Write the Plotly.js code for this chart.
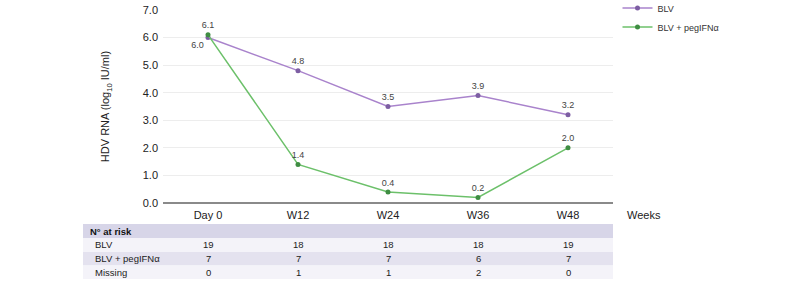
<!DOCTYPE html>
<html><head><meta charset="utf-8">
<script src="https://cdn.plot.ly/plotly-3.0.1.min.js"></script>
<style>html,body{margin:0;padding:0;background:#fff}#chart{width:787px;height:285px}</style>
</head><body><div id="chart"></div>
<script>
const timepoints = ["Day 0", "W12", "W24", "W36", "W48"];
const blvValues = [6.0, 4.8, 3.5, 3.9, 3.2];
const pegValues = [6.1, 1.4, 0.4, 0.2, 2.0];
const seriesNames = ["BLV", "BLV + pegIFNα"];
const riskRowLabels = ["BLV", "BLV + pegIFNα", "Missing"];
const riskBLV = [19, 18, 18, 18, 19];
const riskPeg = [7, 7, 7, 6, 7];
const riskMissing = [0, 1, 1, 2, 0];
const yTicks = [0, 1, 2, 3, 4, 5, 6, 7];

const FONT = "Liberation Sans, Arial, Helvetica, sans-serif";
const W = 787, H = 285, L = 163, R = 174, T = 10, B = 82;
const pw = W - L - R, ph = H - T - B;
const px2x = p => (p - L) / pw;
const py2y = p => (H - B - p) / ph;

const blvPos = blvValues.map((v, i) => i === 0 ? "bottom left" : "top center");
const pegPos = pegValues.map(() => "top center");

const traces = [
  {
    x: timepoints, y: blvValues, name: seriesNames[0], type: "scatter", mode: "lines+markers+text",
    line: {color: "#a983cc", width: 1.5}, marker: {color: "#7d5ea3", size: 5},
    text: blvValues.map(v => v.toFixed(1)), textposition: blvPos,
    textfont: {size: 9, color: "#444", family: FONT}, cliponaxis: false
  },
  {
    x: timepoints, y: pegValues, name: seriesNames[1], type: "scatter", mode: "lines+markers+text",
    line: {color: "#6cc06a", width: 1.5}, marker: {color: "#3f8d42", size: 5},
    text: pegValues.map(v => v.toFixed(1)), textposition: pegPos,
    textfont: {size: 9, color: "#444", family: FONT}, cliponaxis: false
  }
];

const shapes = [];
const annotations = [];
const tableLeft = px2x(83), tableRight = px2x(613);
const rowTops = [224, 238, 252, 265.5, 279];
const rowColors = ["#d7d5e8", "#f4f3f9", "#e4e2ef", "#f4f3f9"];
for (let r = 0; r < 4; r++) {
  shapes.push({type: "rect", xref: "paper", yref: "paper", x0: tableLeft, x1: tableRight,
    y0: py2y(rowTops[r + 1]), y1: py2y(rowTops[r]), fillcolor: rowColors[r], line: {width: 0}, layer: "below"});
}
const rowCenter = r => py2y((rowTops[r] + rowTops[r + 1]) / 2);
annotations.push({xref: "paper", yref: "paper", x: px2x(88), y: rowCenter(0), text: "<b>N° at risk</b>",
  showarrow: false, xanchor: "left", yanchor: "middle", font: {size: 9.5, color: "#111", family: FONT}});
const riskRows = [riskBLV, riskPeg, riskMissing];
riskRows.forEach((row, r) => {
  annotations.push({xref: "paper", yref: "paper", x: px2x(93), y: rowCenter(r + 1), text: riskRowLabels[r],
    showarrow: false, xanchor: "left", yanchor: "middle", font: {size: 9.5, color: "#222", family: FONT}});
  row.forEach((v, i) => {
    annotations.push({xref: "x", yref: "paper", x: timepoints[i], y: rowCenter(r + 1), text: String(v),
      showarrow: false, xanchor: "center", yanchor: "middle", font: {size: 9.5, color: "#222", family: FONT}});
  });
});
annotations.push({xref: "paper", yref: "paper", x: px2x(625), y: py2y(215), text: "Weeks",
  showarrow: false, xanchor: "left", yanchor: "middle", font: {size: 11, color: "#222", family: FONT}});

const layout = {
  width: W, height: H, margin: {l: L, r: R, t: T, b: B, autoexpand: false},
  paper_bgcolor: "#fff", plot_bgcolor: "#fff",
  font: {family: FONT, color: "#222"},
  showlegend: true,
  legend: {x: 1.01, xanchor: "left", y: 1.085, yanchor: "top", font: {size: 9, color: "#333", family: FONT},
    itemwidth: 30, tracegroupgap: 0, bgcolor: "rgba(0,0,0,0)"},
  xaxis: {type: "category", categoryorder: "array", categoryarray: timepoints, range: [-0.5, 4.5],
    showgrid: false, zeroline: false, showline: false, ticks: "",
    tickfont: {size: 11, color: "#222", family: FONT}, ticklabelstandoff: 4, fixedrange: true},
  yaxis: {range: [0, 7], tickvals: yTicks, ticktext: yTicks.map(v => v.toFixed(1)),
    showgrid: true, gridcolor: "#ededed", gridwidth: 1, zeroline: true, zerolinecolor: "#8a8a8a", zerolinewidth: 2,
    showline: false, ticks: "", tickfont: {size: 11, color: "#222", family: FONT}, ticklabelstandoff: 4,
    title: {text: "HDV RNA (log<sub>10</sub> IU/ml)", font: {size: 11, color: "#222", family: FONT}, standoff: 30},
    fixedrange: true},
  shapes: shapes, annotations: annotations
};
Plotly.newPlot("chart", traces, layout, {displayModeBar: false, staticPlot: true});
</script></body></html>
